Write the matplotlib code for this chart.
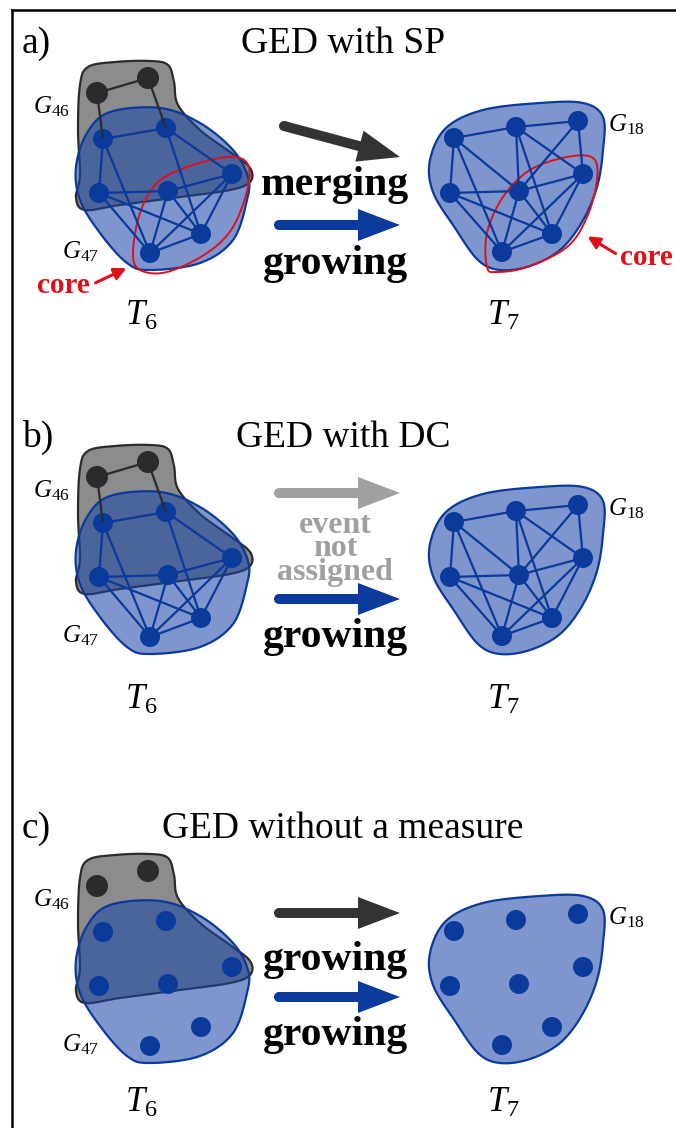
import numpy as np
import matplotlib
matplotlib.use("Agg")
import matplotlib.pyplot as plt
from matplotlib.patches import Polygon, Circle, FancyArrow

plt.rcParams['font.family'] = ['Liberation Serif', 'DejaVu Serif']
plt.rcParams['mathtext.fontset'] = 'custom'
plt.rcParams['mathtext.rm'] = 'Liberation Serif'
plt.rcParams['mathtext.it'] = 'Liberation Serif:italic'

# node positions of panel a (pixels), other panels are shifted copies
black_nodes = [(97, 93), (148, 78)]
left_nodes = [(103, 139), (166, 128), (99, 193), (168, 191), (232, 174), (201, 234), (150, 253)]
right_nodes = [(454, 138), (516, 127), (578, 121), (450, 193), (519, 191), (583, 174), (552, 234), (502, 252)]

black_edges = [(0, 1)]
black_to_blue = [(0, 0), (1, 1)]
left_edges = [(0, 1), (0, 2), (0, 6), (1, 4), (1, 5), (2, 3), (2, 6), (2, 5), (3, 4),
              (3, 6), (3, 5), (4, 6), (4, 5), (5, 6)]
right_edges = [(0, 1), (1, 2), (0, 3), (0, 4), (0, 7), (1, 4), (1, 5), (1, 6), (2, 5), (2, 4),
               (3, 4), (3, 7), (3, 6), (4, 5), (4, 7), (4, 6), (5, 7), (5, 6), (6, 7)]

# blob outlines (control points of closed curves)
g46_outline = [(80, 85), (88, 67), (115, 62), (150, 61), (168, 65), (174, 82), (178, 105), (200, 130),
               (230, 152), (250, 168), (250, 182), (230, 190), (180, 197), (120, 205), (85, 210),
               (76, 198), (80, 175), (78, 130)]
g47_outline = [(76, 167), (87, 133), (110, 112), (160, 108), (200, 123), (233, 150), (248, 177),
               (247, 200), (233, 240), (200, 263), (150, 270), (127, 263), (100, 233), (80, 200)]
g18_outline = [(430, 160), (446, 128), (483, 110), (540, 103), (583, 103), (603, 117), (603, 150),
               (597, 187), (582, 222), (560, 250), (530, 266), (500, 270), (478, 260), (455, 228),
               (433, 192)]
core_left = [(133, 253), (140, 213), (157, 183), (187, 167), (227, 157), (247, 163), (248, 187),
             (233, 227), (207, 253), (167, 272), (140, 270)]
core_right = [(487, 267), (487, 233), (503, 197), (530, 170), (567, 157), (593, 158), (597, 180),
              (587, 217), (567, 247), (527, 267), (497, 272)]

panel_labels = ['a)', 'b)', 'c)']
panel_titles = ['GED with SP', 'GED with DC', 'GED without a measure']
title_y = [53, 447, 838]
panel_shift = [0, 384, 793]
t_label_y = [325, 709, 1112]

BLUE = '#0a3a9c'
BLUE_FILL = '#1945a6'
GRAY_FILL = '#8c8c8c'
DARK = '#2b2b2b'
RED = '#e0101a'
LGRAY = '#a0a0a0'


def smooth_closed(pts, n=30):
    P = np.asarray(pts, float)
    m = len(P)
    out = []
    t = np.linspace(0, 1, n, endpoint=False)[:, None]
    for i in range(m):
        p0, p1, p2, p3 = P[i - 1], P[i], P[(i + 1) % m], P[(i + 2) % m]
        out.append(0.5 * (2 * p1 + (-p0 + p2) * t + (2 * p0 - 5 * p1 + 4 * p2 - p3) * t ** 2
                          + (-p0 + 3 * p1 - 3 * p2 + p3) * t ** 3))
    return np.vstack(out)


def shifted(pts, dy):
    return [(x, y + dy) for x, y in pts]


def blob(ax, pts, dy, face, edge, alpha=1.0, lw=1.6, fill=True):
    xy = smooth_closed(shifted(pts, dy))
    if fill:
        ax.add_patch(Polygon(xy, closed=True, facecolor=face, alpha=alpha, edgecolor='none'))
    ax.add_patch(Polygon(xy, closed=True, facecolor='none', edgecolor=edge, lw=lw))


def big_arrow(ax, x0, y0, x1, y1, color):
    ax.add_patch(FancyArrow(x0, y0, x1 - x0, y1 - y0, width=10, head_width=32, head_length=42,
                            length_includes_head=True, color=color, lw=0))
    ax.add_patch(Circle((x0, y0), 5, color=color, lw=0))


fig = plt.figure(figsize=(6.76, 11.28), dpi=100)
ax = fig.add_axes([0, 0, 1, 1])
ax.set_xlim(0, 676)
ax.set_ylim(1128, 0)
ax.axis('off')

# frame
ax.plot([12, 676], [10, 10], color='black', lw=1.8)
ax.plot([12, 12], [10, 1128], color='black', lw=1.8)

for k in range(3):
    dy = panel_shift[k]
    ax.text(22, title_y[k], panel_labels[k], fontsize=27, va='baseline', ha='left')
    ax.text(343, title_y[k], panel_titles[k], fontsize=27, va='baseline', ha='center')

    # blobs
    blob(ax, g46_outline, dy, GRAY_FILL, DARK)
    blob(ax, g47_outline, dy, BLUE_FILL, BLUE, alpha=0.56)
    blob(ax, g18_outline, dy, BLUE_FILL, BLUE, alpha=0.56)

    bn = shifted(black_nodes, dy)
    ln = shifted(left_nodes, dy)
    rn = shifted(right_nodes, dy)

    if k < 2:
        for i, j in black_edges:
            ax.plot([bn[i][0], bn[j][0]], [bn[i][1], bn[j][1]], color=DARK, lw=1.6)
        for i, j in black_to_blue:
            ax.plot([bn[i][0], ln[j][0]], [bn[i][1], ln[j][1]], color=DARK, lw=1.6)
        for i, j in left_edges:
            ax.plot([ln[i][0], ln[j][0]], [ln[i][1], ln[j][1]], color=BLUE, lw=1.6)
        for i, j in right_edges:
            ax.plot([rn[i][0], rn[j][0]], [rn[i][1], rn[j][1]], color=BLUE, lw=1.6)

    for p in bn:
        ax.add_patch(Circle(p, 11, color=DARK, lw=0))
    for p in ln + rn:
        ax.add_patch(Circle(p, 10, color=BLUE, lw=0))

    # labels
    ax.text(33, 113 + dy, '$G_{46}$', fontsize=18, va='baseline', ha='left')
    ax.text(62, 258 + dy, '$G_{47}$', fontsize=18, va='baseline', ha='left')
    ax.text(608, 131 + dy, '$G_{18}$', fontsize=18, va='baseline', ha='left')
    ax.text(141, t_label_y[k], '$T_6$', fontsize=25, va='baseline', ha='center')
    ax.text(503, t_label_y[k], '$T_7$', fontsize=25, va='baseline', ha='center')

# panel a: arrows, texts, cores
big_arrow(ax, 284, 126, 400, 157, '#333333')
ax.text(335, 195, 'merging', fontsize=30, fontweight='bold', ha='center', va='baseline')
big_arrow(ax, 279, 225, 400, 225, BLUE)
ax.text(335, 274, 'growing', fontsize=30, fontweight='bold', ha='center', va='baseline')
blob(ax, core_left, 0, None, RED, lw=1.4, fill=False)
blob(ax, core_right, 0, None, RED, lw=1.4, fill=False)
ax.text(37, 293, 'core', fontsize=21, fontweight='bold', color=RED, ha='left', va='baseline')
ax.annotate('', xy=(129, 267), xytext=(93, 284),
            arrowprops=dict(arrowstyle='-|>', lw=2.2, color=RED, mutation_scale=18))
ax.text(620, 265, 'core', fontsize=21, fontweight='bold', color=RED, ha='left', va='baseline')
ax.annotate('', xy=(585, 235), xytext=(618, 255),
            arrowprops=dict(arrowstyle='-|>', lw=2.2, color=RED, mutation_scale=18))

# panel b
big_arrow(ax, 279, 493, 400, 493, LGRAY)
ax.text(335, 549, 'event\nnot\nassigned', fontsize=23, fontweight='bold', color=LGRAY,
        ha='center', va='center', multialignment='center', linespacing=0.75)
big_arrow(ax, 279, 599, 400, 599, BLUE)
ax.text(335, 647, 'growing', fontsize=30, fontweight='bold', ha='center', va='baseline')

# panel c
big_arrow(ax, 279, 913, 400, 913, '#333333')
ax.text(335, 970, 'growing', fontsize=30, fontweight='bold', ha='center', va='baseline')
big_arrow(ax, 279, 997, 400, 997, BLUE)
ax.text(335, 1045, 'growing', fontsize=30, fontweight='bold', ha='center', va='baseline')

fig.savefig('out.png', dpi=100)
